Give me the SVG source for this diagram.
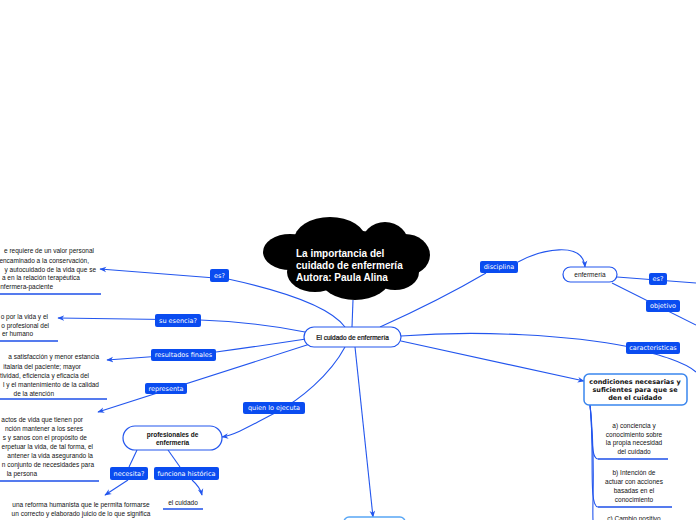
<svg xmlns="http://www.w3.org/2000/svg" width="696" height="520" viewBox="0 0 696 520">
<style>
.ln{fill:none;stroke:#2356ee;stroke-width:1.1}
.ul{stroke:#1d4fe8;stroke-width:1.5}
.lbl rect{fill:#0a4cf0}
.lbl text{font-family:"DejaVu Sans",Verdana,sans-serif;font-size:6.5px;fill:#fff;text-anchor:middle}
.body{font-family:"Liberation Sans",Arial,sans-serif;font-size:6.5px;fill:#111}
.end{text-anchor:end}
.mid{text-anchor:middle}
.node{fill:#fff;stroke:#2356ee;stroke-width:1.2}
</style>
<defs>
<marker id="arr" viewBox="0 0 10 10" refX="9" refY="5" markerWidth="7" markerHeight="7" markerUnits="userSpaceOnUse" orient="auto"><path d="M0,1 L10,5 L0,9 L3,5 z" fill="#2356ee"/></marker>
</defs>
<rect width="696" height="520" fill="#fff"/>

<g id="connectors">
<path class="ln" d="M353 300 L352 327"/>
<path class="ln" d="M345 327 Q325 300 228 279 L100 269" marker-end="url(#arr)"/>
<path class="ln" d="M305 332 Q255 322 200 320 L58 318" marker-end="url(#arr)"/>
<path class="ln" d="M306 339 Q260 346 216 352 L107 360" marker-end="url(#arr)"/>
<path class="ln" d="M310 344 L98 412" marker-end="url(#arr)"/>
<path class="ln" d="M345 347 C330 375 300 400 275 413 S235 435 222 437" marker-end="url(#arr)"/>
<path class="ln" d="M137 450 L129 467"/>
<path class="ln" d="M128 480 L105 495" marker-end="url(#arr)"/>
<path class="ln" d="M168 450 L180 467"/>
<path class="ln" d="M192 480 Q200 487 202 495" marker-end="url(#arr)"/>
<path class="ln" d="M380 327 Q440 300 486 273"/>
<path class="ln" d="M518 262 C540 250 583 240 585 267" marker-end="url(#arr)"/>
<path class="ln" d="M617 277 L696 283"/>
<path class="ln" d="M612 283 L696 325"/>
<path class="ln" d="M401 336 C480 330 570 335 630 347 C660 355 685 362 696 372"/>
<path class="ln" d="M401 341 L584 381" marker-end="url(#arr)"/>
<path class="ln" d="M355 347 L373 517" marker-end="url(#arr)"/>
<path class="ln" d="M590 405 C593 430 590 459 598 459"/>
<path class="ln" d="M590 405 C595 450 588 507 598 507"/>
<path class="ln" d="M590 405 C596 460 592 500 593 520"/>
</g>

<g id="cloud">
<g fill="#000">
<ellipse cx="330" cy="240" rx="36" ry="23"/>
<ellipse cx="385" cy="245" rx="24" ry="23"/>
<ellipse cx="405" cy="255" rx="25" ry="21"/>
<ellipse cx="395" cy="272" rx="24" ry="18"/>
<ellipse cx="355" cy="278" rx="35" ry="22"/>
<ellipse cx="315" cy="272" rx="28" ry="20"/>
<ellipse cx="290" cy="252" rx="27" ry="18"/>
<ellipse cx="348" cy="258" rx="60" ry="28"/>
</g>
<g font-family="'Liberation Sans',Arial,sans-serif" font-size="10" font-weight="bold" fill="#fff">
<text x="296" y="257">La importancia del</text>
<text x="296" y="269">cuidado de enfermería</text>
<text x="296" y="281">Autora: Paula Alina</text>
</g>
</g>

<g id="central">
<rect class="node" x="304" y="327" width="97" height="20" rx="10"/>
<text class="body mid" x="352.5" y="339.5" fill="#000" stroke="#000" stroke-width="0.2">El cuidado de enfermería</text>
</g>

<g id="lbl-es" class="lbl"><rect x="210" y="269" width="19" height="13" rx="2"/><text x="219.5" y="277.8">es?</text></g>
<g id="lbl-esencia" class="lbl"><rect x="155" y="314" width="46" height="13" rx="2"/><text x="178" y="322.8">su esencia?</text></g>
<g id="lbl-resultados" class="lbl"><rect x="151" y="349" width="65" height="12" rx="2"/><text x="183.5" y="357.3">resultados finales</text></g>
<g id="lbl-representa" class="lbl"><rect x="145" y="383" width="42" height="11" rx="2"/><text x="166" y="390.8">representa</text></g>
<g id="lbl-quien" class="lbl"><rect x="243" y="402" width="62" height="12" rx="2"/><text x="274" y="410.3">quien lo ejecuta</text></g>
<g id="lbl-necesita" class="lbl"><rect x="110" y="467" width="38" height="13" rx="2"/><text x="129" y="475.8">necesita?</text></g>
<g id="lbl-funciona" class="lbl"><rect x="154" y="467" width="65" height="13" rx="2"/><text x="186.5" y="475.8">funciona histórica</text></g>
<g id="lbl-disciplina" class="lbl"><rect x="480" y="261" width="38" height="12" rx="2"/><text x="499" y="269.3">disciplina</text></g>
<g id="lbl-es2" class="lbl"><rect x="649" y="273" width="18" height="12" rx="2"/><text x="658" y="281.3">es?</text></g>
<g id="lbl-objetivo" class="lbl"><rect x="646" y="300" width="34" height="12" rx="2"/><text x="663" y="308.3">objetivo</text></g>
<g id="lbl-caracteristicas" class="lbl"><rect x="626" y="342" width="54" height="12" rx="2"/><text x="653" y="350.3">caracteristicas</text></g>

<g id="enfermeria">
<rect class="node" x="563" y="267" width="54" height="15" rx="7.5"/>
<text class="body mid" x="590" y="276.8" fill="#000">enfermería</text>
</g>

<g id="condiciones">
<rect x="584" y="374" width="103" height="31" rx="5" fill="#fff" stroke="#3a86ee" stroke-width="1.5"/>
<g font-family="'DejaVu Sans',Verdana,sans-serif" font-size="6.5" font-weight="bold" fill="#111" text-anchor="middle">
<text x="635" y="384">condiciones necesarias y</text>
<text x="635" y="392.3">suficientes para que se</text>
<text x="635" y="400.3">den el cuidado</text>
</g>
</g>

<g id="profesionales">
<rect class="node" x="123" y="426" width="99" height="24" rx="12"/>
<g font-family="'Liberation Sans',Arial,sans-serif" font-size="6.5" font-weight="bold" fill="#111" text-anchor="middle">
<text x="172.5" y="436.5">profesionales de</text>
<text x="172.5" y="444.8">enfermería</text>
</g>
</g>

<g id="bottom-node">
<rect x="344" y="517" width="61" height="20" rx="5" fill="#fff" stroke="#58a6f5" stroke-width="1.5"/>
</g>

<g id="txt-es">
<text class="body end" x="94" y="253">e requiere de un valor personal</text>
<text class="body end" x="89" y="262.5">encaminado a la conservación,</text>
<text class="body end" x="96" y="271.5">y autocuidado de la vida que se</text>
<text class="body end" x="80" y="280">a en la relación terapéutica</text>
<text class="body end" x="53" y="289">nfermera-paciente</text>
<line class="ul" x1="0" y1="294" x2="101" y2="294"/>
</g>

<g id="txt-esencia">
<text class="body end" x="48" y="318.5">o por la vida y el</text>
<text class="body end" x="49" y="327.5">o profesional del</text>
<text class="body end" x="33" y="336">er humano</text>
<line class="ul" x1="0" y1="341" x2="58" y2="341"/>
</g>

<g id="txt-resultados">
<text class="body end" x="99" y="359">a satisfacción y menor estancia</text>
<text class="body end" x="81" y="368.5">italaria del paciente; mayor</text>
<text class="body end" x="89" y="377.5">tividad, eficiencia y eficacia del</text>
<text class="body end" x="99" y="386.5">l y el mantenimiento de la calidad</text>
<text class="body end" x="54" y="395.5">de la atención</text>
<line class="ul" x1="0" y1="399" x2="107" y2="399"/>
</g>

<g id="txt-representa">
<text class="body end" x="83" y="421.5">actos de vida que tienen por</text>
<text class="body end" x="83" y="430.5">nción mantener a los seres</text>
<text class="body end" x="87" y="439.5">s y sanos con el propósito de</text>
<text class="body end" x="93" y="449">erpetuar la vida, de tal forma, el</text>
<text class="body end" x="93" y="458">antener la vida asegurando la</text>
<text class="body end" x="94" y="467">n conjunto de necesidades para</text>
<text class="body end" x="37" y="476">la persona</text>
<line class="ul" x1="0" y1="481" x2="99" y2="481"/>
</g>

<g id="txt-necesita">
<text class="body mid" x="81" y="506.5">una reforma humanista que le permita formarse</text>
<text class="body mid" x="81" y="515.5">un correcto y elaborado juicio de lo que significa</text>
</g>

<g id="txt-cuidado">
<text class="body mid" x="183" y="504.5">el cuidado</text>
<line class="ul" x1="163" y1="509" x2="203" y2="509"/>
</g>

<g id="txt-a">
<text class="body mid" x="634" y="427.5">a) conciencia y</text>
<text class="body mid" x="634" y="436.5">conocimiento sobre</text>
<text class="body mid" x="634" y="445.3">la propia necesidad</text>
<text class="body mid" x="634" y="454.3">del cuidado</text>
<line class="ul" x1="598" y1="459" x2="668" y2="459"/>
</g>

<g id="txt-b">
<text class="body mid" x="634" y="475.3">b) Intención de</text>
<text class="body mid" x="634" y="484.3">actuar con acciones</text>
<text class="body mid" x="634" y="493.3">basadas en el</text>
<text class="body mid" x="634" y="502">conocimiento</text>
<line class="ul" x1="598" y1="507" x2="672" y2="507"/>
</g>

<g id="txt-c">
<text class="body mid" x="634" y="521">c) Cambio positivo</text>
</g>
</svg>
